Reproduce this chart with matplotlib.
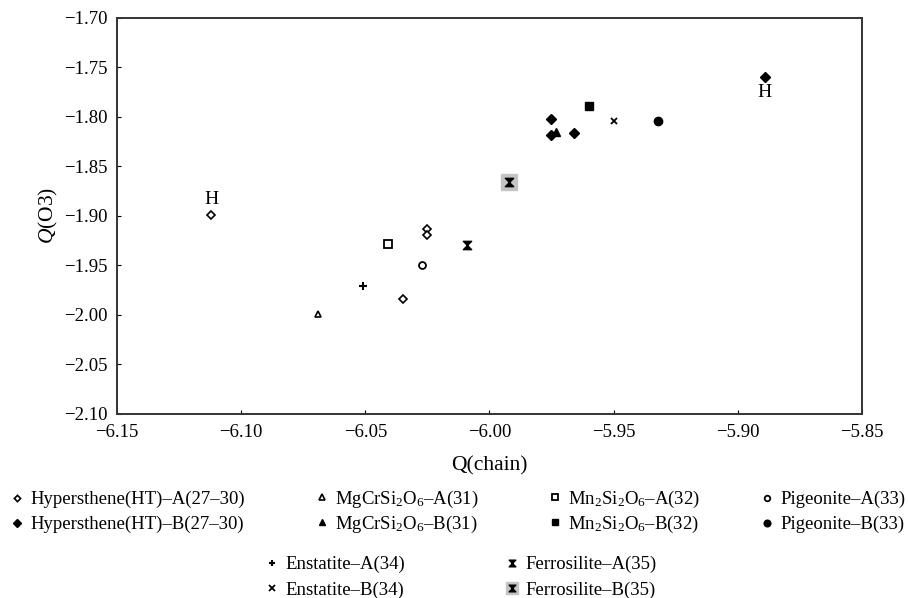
import numpy as np
import matplotlib
matplotlib.use('Agg')
import matplotlib.pyplot as plt
from matplotlib.path import Path

plt.rcParams['font.family'] = 'Liberation Serif'
plt.rcParams['mathtext.fontset'] = 'custom'
plt.rcParams['mathtext.rm'] = 'Liberation Serif'
plt.rcParams['mathtext.it'] = 'Liberation Serif:italic'

# ---- data ----
hyp_a_x = [-6.112, -6.025, -6.025, -6.035]
hyp_a_y = [-1.899, -1.913, -1.919, -1.984]
hyp_b_x = [-5.889, -5.975, -5.975, -5.966]
hyp_b_y = [-1.760, -1.802, -1.819, -1.817]
mgcr_a = (-6.069, -1.999)
mgcr_b = (-5.973, -1.815)
mn_a = (-6.041, -1.928)
mn_b = (-5.960, -1.789)
pig_a = (-6.027, -1.950)
pig_b = (-5.932, -1.804)
ens_a = (-6.051, -1.971)
ens_b = (-5.950, -1.804)
fer_a = (-6.009, -1.930)
fer_b = (-5.992, -1.866)

xticks = [-6.15, -6.10, -6.05, -6.00, -5.95, -5.90, -5.85]
yticks = [-1.70, -1.75, -1.80, -1.85, -1.90, -1.95, -2.00, -2.05, -2.10]

D = '\u2013'  # en dash used in the labels
labels_top = ['Hypersthene(HT)' + D + 'A(27' + D + '30)', 'Hypersthene(HT)' + D + 'B(27' + D + '30)',
              r'MgCrSi$_2$O$_6$' + D + 'A(31)', r'MgCrSi$_2$O$_6$' + D + 'B(31)',
              r'Mn$_2$Si$_2$O$_6$' + D + 'A(32)', r'Mn$_2$Si$_2$O$_6$' + D + 'B(32)',
              'Pigeonite' + D + 'A(33)', 'Pigeonite' + D + 'B(33)']
labels_bot = ['Enstatite' + D + 'A(34)', 'Enstatite' + D + 'B(34)',
              'Ferrosilite' + D + 'A(35)', 'Ferrosilite' + D + 'B(35)']

# hourglass marker used for ferrosilite
hourglass = Path([(-1, 1), (1, 1), (-1, -1), (1, -1), (-1, 1)],
                 [Path.MOVETO, Path.LINETO, Path.LINETO, Path.LINETO, Path.CLOSEPOLY])

fig = plt.figure(figsize=(9.08, 5.98), dpi=100)
ax = fig.add_axes([0.129, 0.3077, 0.820, 0.663])

k = dict(color='black', ls='none')
h1, = ax.plot(hyp_a_x, hyp_a_y, marker='D', ms=4, mfc='white', mew=1.2, **k)
h2, = ax.plot(hyp_b_x, hyp_b_y, marker='D', ms=5, **k)
h3, = ax.plot(*mgcr_a, marker='^', ms=5, mfc='white', mew=1.2, **k)
h4, = ax.plot(*mgcr_b, marker='^', ms=6, **k)
h5, = ax.plot(*mn_a, marker='s', ms=6, mfc='white', mew=1.3, **k)
h6, = ax.plot(*mn_b, marker='s', ms=6, **k)
h7, = ax.plot(*pig_a, marker='o', ms=5, mfc='white', mew=1.3, **k)
h8, = ax.plot(*pig_b, marker='o', ms=6, **k)
h9, = ax.plot(*ens_a, marker='+', ms=6, mew=1.5, **k)
h10, = ax.plot(*ens_b, marker='x', ms=5, mew=1.3, **k)
h11, = ax.plot(*fer_a, marker=hourglass, ms=6, **k)
bg, = ax.plot(*fer_b, marker='s', ms=11, color='#c4c4c4', ls='none')
h12, = ax.plot(*fer_b, marker=hourglass, ms=6, **k)

ax.annotate('H', (hyp_a_x[0], hyp_a_y[0]), xytext=(0, 5), textcoords='offset points',
            ha='center', va='bottom', fontsize=14)
ax.annotate('H', (hyp_b_x[0], hyp_b_y[0]), xytext=(0, -5), textcoords='offset points',
            ha='center', va='top', fontsize=14)

ax.set_xlim(-6.15, -5.85); ax.set_ylim(-2.10, -1.70)
ax.set_xticks(xticks); ax.set_yticks(yticks)
ax.set_xticklabels(['\u2212%.2f' % abs(v) for v in xticks])
ax.set_yticklabels(['\u2212%.2f' % abs(v) for v in yticks])
ax.tick_params(direction='in', length=3, width=0.8, labelsize=13.5, pad=7)
for s in ax.spines.values():
    s.set_linewidth(1.4); s.set_color('#333333')
ax.set_xlabel('Q(chain)', fontsize=15.5, labelpad=11)
ax.set_ylabel(r'$\mathit{Q}$(O3)', fontsize=15.5, labelpad=2.5)

# legends below the axes, one block per column
lk = dict(frameon=False, fontsize=13.5, handlelength=0.7, handletextpad=0.35,
          borderpad=0, borderaxespad=0, loc='upper left', markerscale=0.8)
top = [(h1, h2), (h3, h4), (h5, h6), (h7, h8)]
xs_top = [0.0116, 0.3475, 0.604, 0.838]
math_col = [False, True, True, False]
for i, (hA, hB) in enumerate(top):
    y0 = 0.1823 if math_col[i] else 0.179
    sp = 0.2 if math_col[i] else 0.42
    fig.legend([hA, hB], labels_top[2 * i:2 * i + 2], labelspacing=sp,
               bbox_to_anchor=(xs_top[i], y0), **lk)
fig.legend([h9, h10], labels_bot[:2], labelspacing=0.42,
           bbox_to_anchor=(0.2924, 0.0702), **lk)
fig.legend([h11, (bg, h12)], labels_bot[2:], labelspacing=0.42,
           bbox_to_anchor=(0.5567, 0.0702), **lk)

fig.savefig('out.png', dpi=100)
